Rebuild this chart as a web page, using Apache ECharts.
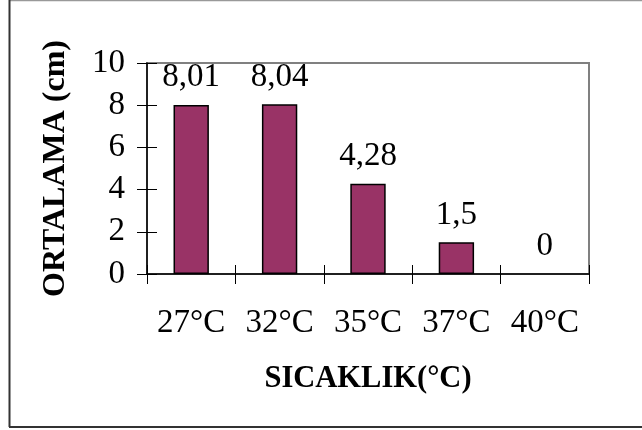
<!DOCTYPE html>
<html>
<head>
<meta charset="utf-8">
<script src="https://cdn.jsdelivr.net/npm/echarts@6/dist/echarts.min.js"></script>
<style>
html,body{margin:0;padding:0;background:#fff;}
#c{width:642px;height:430px;}
</style>
</head>
<body>
<div id="c"></div>
<script>
var categories = ['27°C', '32°C', '35°C', '37°C', '40°C'];
var values = [8.01, 8.04, 4.28, 1.5, 0];
var yTitle = 'ORTALAMA (cm)';
var xTitle = 'SICAKLIK(°C)';

var FONT = 'Liberation Serif, Times New Roman, serif';
var chart = echarts.init(document.getElementById('c'), null, {renderer: 'canvas'});
var barData = values.map(function (v) {
  return v === 0 ? {value: v, itemStyle: {borderWidth: 0}} : v;
});
chart.setOption({
  backgroundColor: '#fff',
  animation: false,
  grid: {left: 147, top: 63, right: 53, bottom: 156, show: true, borderColor: '#808080', borderWidth: 2, backgroundColor: 'transparent'},
  xAxis: [{
    type: 'category', data: categories, position: 'bottom',
    axisLine: {lineStyle: {color: '#000', width: 1.5}},
    axisTick: {show: true, length: 10, lineStyle: {color: '#000'}},
    axisLabel: {fontFamily: FONT, fontSize: 33, color: '#000', margin: 33, interval: 0, hideOverlap: false},
    name: xTitle, nameLocation: 'middle', nameGap: 90,
    nameTextStyle: {fontFamily: FONT, fontSize: 30.5, fontWeight: 'bold', color: '#000'}
  }, {
    type: 'category', data: categories, position: 'bottom',
    axisLine: {show: false},
    axisTick: {show: true, inside: true, length: 9, lineStyle: {color: '#000'}},
    axisLabel: {show: false}
  }],
  yAxis: [{
    type: 'value', min: 0, max: 10, interval: 2, position: 'left',
    axisLine: {show: true, lineStyle: {color: '#000', width: 1.5}},
    axisTick: {show: true, length: 10, lineStyle: {color: '#000'}},
    splitLine: {show: false},
    axisLabel: {fontFamily: FONT, fontSize: 33, color: '#000', margin: 22},
    name: yTitle, nameLocation: 'middle', nameGap: 75, nameRotate: 90,
    nameTextStyle: {fontFamily: FONT, fontSize: 32, fontWeight: 'bold', color: '#000'}
  }, {
    type: 'value', min: 0, max: 10, interval: 2, position: 'left',
    axisLine: {show: false},
    axisTick: {show: true, inside: true, length: 10, lineStyle: {color: '#000'}},
    splitLine: {show: false},
    axisLabel: {show: false}
  }],
  series: [{
    type: 'bar', data: barData, xAxisIndex: 0, yAxisIndex: 0,
    barWidth: '40%',
    itemStyle: {color: '#993366', borderColor: '#000', borderWidth: 1.5},
    label: {
      show: true, position: 'top', distance: 11,
      fontFamily: FONT, fontSize: 33, color: '#000',
      formatter: function (p) { return String(p.value).replace('.', ','); }
    }
  }],
  graphic: [
    {type: 'line', shape: {x1: 9, y1: 0.5, x2: 642, y2: 0.5}, style: {stroke: '#999', lineWidth: 1.5}},
    {type: 'line', shape: {x1: 9.5, y1: 0, x2: 9.5, y2: 427}, style: {stroke: '#333', lineWidth: 2}},
    {type: 'line', shape: {x1: 9, y1: 427, x2: 642, y2: 427}, style: {stroke: '#333', lineWidth: 2}}
  ]
});
</script>
</body>
</html>
